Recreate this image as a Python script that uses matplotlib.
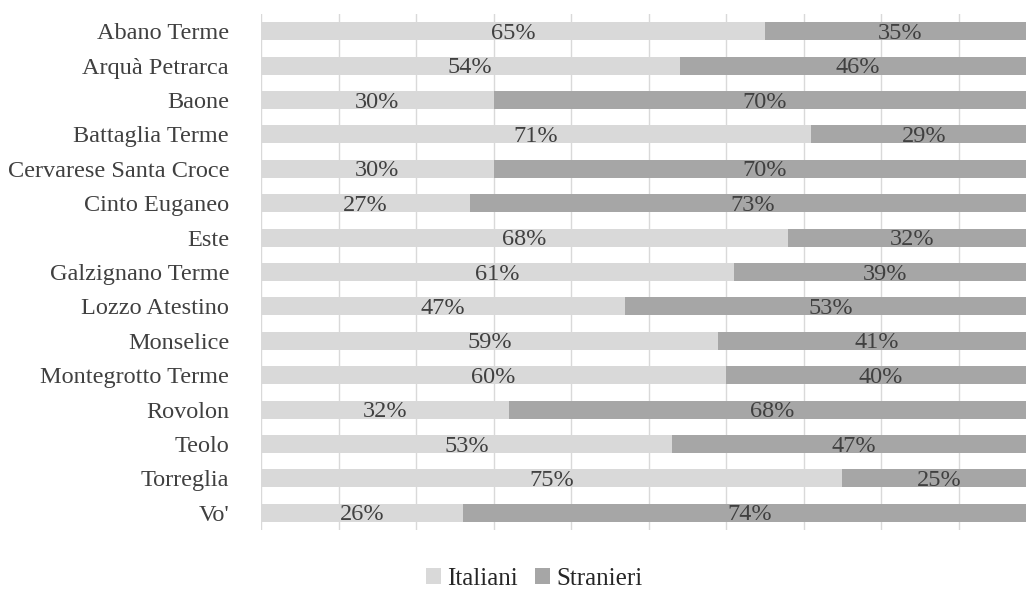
import matplotlib.pyplot as plt
import numpy as np

comuni = [
    "Abano Terme", "Arquà Petrarca", "Baone", "Battaglia Terme",
    "Cervarese Santa Croce", "Cinto Euganeo", "Este", "Galzignano Terme",
    "Lozzo Atestino", "Monselice", "Montegrotto Terme", "Rovolon",
    "Teolo", "Torreglia", "Vo'",
]
italiani = [65, 54, 30, 71, 30, 27, 68, 61, 47, 59, 60, 32, 53, 75, 26]
stranieri = [35, 46, 70, 29, 70, 73, 32, 39, 53, 41, 40, 68, 47, 25, 74]

plt.rcParams["font.family"] = ["Liberation Serif", "DejaVu Serif"]

fig = plt.figure(figsize=(10.26, 5.91), dpi=100)
ax = fig.add_axes([261 / 1026, 1 - 530 / 591, 1 - 261 / 1026, 516 / 591])

y = np.arange(len(comuni))
ita = np.array(italiani) / 100
stra = np.array(stranieri) / 100

ax.barh(y, ita, height=0.52, color="#d9d9d9", label="Italiani", zorder=2)
ax.barh(y, stra, left=ita, height=0.52, color="#a6a6a6", label="Stranieri", zorder=2)

for i in range(len(comuni)):
    ax.text(ita[i] / 2, y[i] + 0.06, f"{italiani[i]}%", ha="center", va="center",
            fontsize=17.5, color="#404040", zorder=3)
    ax.text(ita[i] + stra[i] / 2, y[i] + 0.06, f"{stranieri[i]}%", ha="center",
            va="center", fontsize=17.5, color="#404040", zorder=3)

ax.set_xlim(0, 0.987)
ax.set_ylim(len(comuni) - 0.5, -0.5)
ax.set_xticks(np.arange(0, 1.0, 0.1))
ax.set_xticklabels([])
ax.grid(axis="x", color="#d9d9d9", linewidth=1.0, zorder=0)
ax.tick_params(axis="both", length=0)
ax.tick_params(axis="y", pad=23, labelsize=17.5, labelcolor="#404040")
ax.set_yticks(y)
ax.set_yticklabels(comuni)
for s in ax.spines.values():
    s.set_visible(False)

fig.legend(loc="center", bbox_to_anchor=(534 / 1026, 1 - 579 / 591), ncol=2,
           frameon=False, fontsize=18, handlelength=0.6, handleheight=0.6,
           handletextpad=0.25, columnspacing=0.7, labelcolor="#262626")

fig.savefig("out.png", dpi=100)
